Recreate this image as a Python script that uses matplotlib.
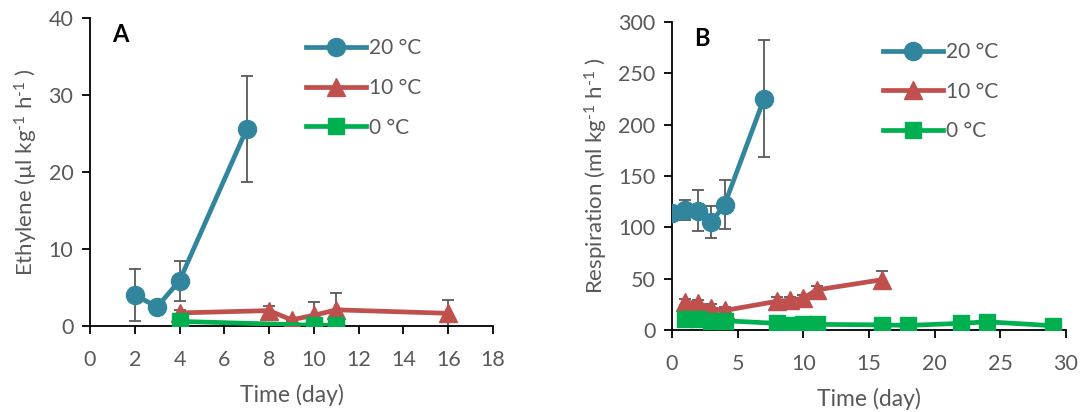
import matplotlib
matplotlib.use('Agg')
import matplotlib.pyplot as plt

plt.rcParams['font.family'] = ['Lato', 'DejaVu Sans']
plt.rcParams['mathtext.fontset'] = 'custom'
plt.rcParams['mathtext.rm'] = 'Lato'
plt.rcParams['mathtext.default'] = 'regular'

# panel A - ethylene
a20_x = [2, 3, 4, 7]
a20_y = [4.0, 2.5, 5.9, 25.6]
a20_err = [3.4, 0.5, 2.6, 6.9]
a10_x = [4, 8, 9, 10, 11, 16]
a10_y = [1.7, 2.0, 0.8, 1.4, 2.1, 1.65]
a10_err = [0.4, 0.6, 0.2, 1.7, 2.2, 1.75]
a0_x = [4, 10, 11]
a0_y = [0.6, 0.1, 0.1]
a0_err = [0.2, 0.1, 0.1]

# panel B - respiration
b20_x = [0, 1, 2, 3, 4, 7]
b20_y = [114, 117, 116, 105, 122, 225]
b20_err = [5, 10, 20, 15.5, 24, 57]
b10_x = [1, 2, 3, 4, 8, 9, 10, 11, 16]
b10_y = [27, 26, 21, 19, 28, 29, 31, 39, 49]
b10_err = [3, 3, 4, 3, 4, 3, 3, 4, 8]
b0_x = [1, 2, 3, 4, 8, 9, 10, 11, 16, 18, 22, 24, 29]
b0_y = [10.5, 10.5, 9, 9, 6.5, 5, 5.5, 5.5, 5, 4.5, 6.5, 8, 4.2]
b0_err = [1, 1, 1, 1, 1, 1, 1, 1, 1, 1, 1, 1, 1]

labels = ['20 °C', '10 °C', '0 °C']
colors = ['#31859C', '#C0504D', '#00B050']
markers = ['o', '^', 's']
msizes = [13, 13, 12]
grey = '#595959'


def draw_panel(ax, series, xlim, xticks, ylim, yticks, ylabel, letter):
    for (x, y, e), lab, c, m, ms in zip(series, labels, colors, markers, msizes):
        ax.errorbar(x, y, yerr=e, fmt='none', ecolor=grey, elinewidth=1.3,
                    capsize=4.5, capthick=1.3, zorder=2)
        ax.plot(x, y, color=c, marker=m, markersize=ms, linewidth=3.4,
                label=lab, zorder=3)
    ax.set_xlim(xlim)
    ax.set_ylim(ylim)
    ax.set_xticks(xticks)
    ax.set_yticks(yticks)
    for s in ['top', 'right']:
        ax.spines[s].set_visible(False)
    for s in ['left', 'bottom']:
        ax.spines[s].set_linewidth(1.3)
        ax.spines[s].set_color('black')
    ax.tick_params(direction='out', length=6, width=1.3, color='black',
                   labelsize=15.5, labelcolor=grey)
    ax.tick_params(axis='x', pad=11)
    ax.tick_params(axis='y', pad=6)
    ax.set_xlabel('Time (day)', fontsize=16.5, color=grey, labelpad=10)
    ax.set_ylabel(ylabel, fontsize=16, color=grey, labelpad=6)
    ax.text(0.055, 0.945, letter, transform=ax.transAxes, fontsize=17,
            fontweight='bold', va='center', ha='left', color='black')
    leg = ax.legend(loc='upper left', bbox_to_anchor=(0.535, 0.935), frameon=False,
                    fontsize=15, handlelength=2.9, handletextpad=0.15,
                    labelspacing=0.95, borderpad=0, borderaxespad=0)
    for t in leg.get_texts():
        t.set_color(grey)


fig = plt.figure(figsize=(10.85, 4.12), dpi=100)
axA = fig.add_axes([0.083, 0.2087, 0.3714, 0.7476])
axB = fig.add_axes([0.6194, 0.199, 0.3631, 0.748])

draw_panel(axA, [(a20_x, a20_y, a20_err), (a10_x, a10_y, a10_err), (a0_x, a0_y, a0_err)],
           (0, 18), range(0, 19, 2), (0, 40), range(0, 41, 10),
           r'Ethylene (µl kg$^{\text{-}1}$ h$^{\text{-}1}$ )', 'A')
draw_panel(axB, [(b20_x, b20_y, b20_err), (b10_x, b10_y, b10_err), (b0_x, b0_y, b0_err)],
           (0, 30), range(0, 31, 5), (0, 300), range(0, 301, 50),
           r'Respiration (ml kg$^{\text{-}1}$ h$^{\text{-}1}$ )', 'B')

fig.savefig('out.png', dpi=100)
